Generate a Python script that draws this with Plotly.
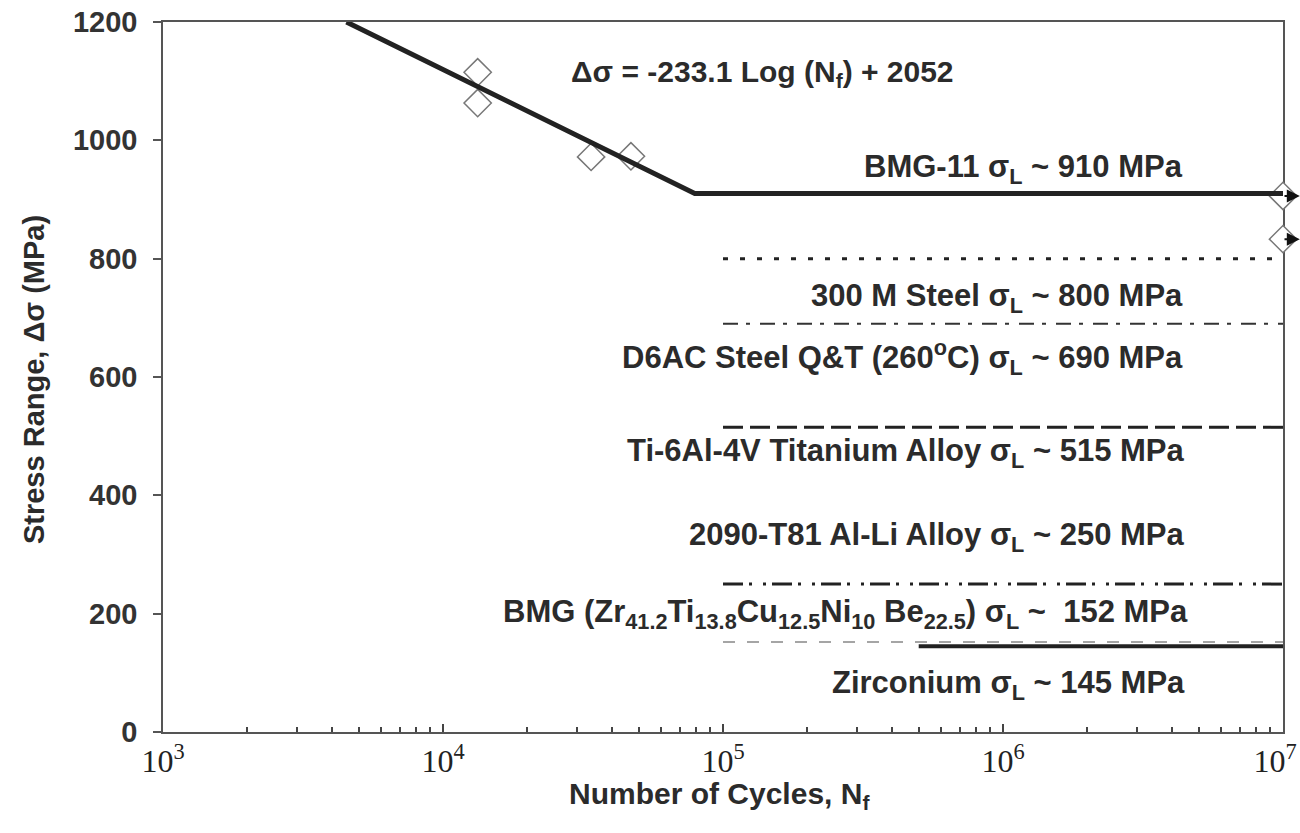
import numpy as np
import plotly.graph_objects as go

# S-N fit for BMG-11: stress = slope*log10(N) + intercept
fit_slope = -233.1
fit_intercept = 2052
bmg11_limit = 910

# Test results (cycles, stress range MPa)
test_cycles = [13300, 13300, 33800, 46900]
test_stress = [1115, 1063, 972, 973]
runout_cycles = [1e7, 1e7]
runout_stress = [906, 833]

# Fatigue limits of comparison materials (MPa), drawn out to 1e7 cycles
limit_names = ["300 M Steel", "D6AC Steel", "Ti-6Al-4V", "2090-T81", "BMG Zr-based", "Zirconium"]
limit_values = [800, 690, 515, 250, 152, 145]
limit_start = [1e5, 1e5, 1e5, 1e5, 1e5, 5e5]
limit_end = 1e7

x_tick_vals = [1e3, 1e4, 1e5, 1e6, 1e7]
# trailing non-breaking spaces keep the last label inside the page edge
x_tick_text = ["10<sup>3</sup>", "10<sup>4</sup>", "10<sup>5</sup>", "10<sup>6</sup>",
               "10<sup>7</sup>&nbsp;&nbsp;"]

dark = "#222222"
txt = "#2b2b2b"

fig = go.Figure()

# open diamond markers for data points (white filled so axis lines hide behind)
fig.add_trace(go.Scatter(
    x=test_cycles + runout_cycles, y=test_stress + runout_stress,
    mode="markers", cliponaxis=False,
    marker=dict(symbol="diamond", size=21, color="white",
                line=dict(color="#777777", width=1.5)),
    showlegend=False, hoverinfo="skip"))

# fitted line down to the fatigue limit, then horizontal
n_start = 10 ** ((fit_intercept - 1200) / -fit_slope)
n_knee = 10 ** ((fit_intercept - bmg11_limit) / -fit_slope)
fit_x = [n_start, n_knee, limit_end]
fit_y = [fit_slope * np.log10(n_start) + fit_intercept, bmg11_limit, bmg11_limit]
fig.add_trace(go.Scatter(x=fit_x, y=fit_y, mode="lines",
                         line=dict(color=dark, width=5),
                         showlegend=False, hoverinfo="skip"))

styles = [
    dict(color=dark, width=3, dash="5px,12px"),
    dict(color="#333333", width=2, dash="15px,8px,4px,10px"),
    dict(color=dark, width=3, dash="20px,7px"),
    dict(color=dark, width=3, dash="20px,6px,3px,11px,3px,6px"),
    dict(color="#888888", width=1.5, dash="12px,12px"),
    dict(color=dark, width=4),
]
for name, val, st, sty in zip(limit_names, limit_values, limit_start, styles):
    fig.add_trace(go.Scatter(x=[st, limit_end], y=[val, val], mode="lines",
                             line=sty, name=name, showlegend=False,
                             hoverinfo="skip"))

ann_font = dict(family="Arial", size=31, color=txt)
labels = [
    ("<b>BMG-11 σ<sub>L</sub> ~ 910 MPa</b>", 0.9125, 0.793),
    ("<b>300 M Steel σ<sub>L</sub> ~ 800 MPa</b>", 0.9125, 0.611),
    ("<b>D6AC Steel Q&T (260<sup>o</sup>C) σ<sub>L</sub> ~ 690 MPa</b>", 0.9125, 0.527),
    ("<b>Ti-6Al-4V Titanium Alloy σ<sub>L</sub> ~ 515 MPa</b>", 0.9145, 0.393),
    ("<b>2090-T81 Al-Li Alloy σ<sub>L</sub> ~ 250 MPa</b>", 0.9145, 0.274),
    ("<b>BMG (Zr<sub>41.2</sub>Ti<sub>13.8</sub>Cu<sub>12.5</sub>Ni<sub>10</sub> Be<sub>22.5</sub>) σ<sub>L</sub> ~  152 MPa</b>", 0.917, 0.166),
    ("<b>Zirconium σ<sub>L</sub> ~ 145 MPa</b>", 0.9145, 0.066),
]
annotations = []
for text, x, y in labels:
    annotations.append(dict(text=text, x=x, y=y, xref="paper", yref="paper",
                            xanchor="right", yanchor="middle",
                            showarrow=False, font=ann_font))

annotations.append(dict(text="<b>Δσ = -233.1 Log (N<sub>f</sub>) + 2052</b>",
                        x=0.535, y=0.928, xref="paper", yref="paper",
                        xanchor="center", yanchor="middle", showarrow=False,
                        font=dict(family="Arial", size=30, color=txt)))

# run-out arrows at the end of the test window
for n, s in zip(runout_cycles, runout_stress):
    annotations.append(dict(x=np.log10(n) + 0.06, y=s, ax=np.log10(n), ay=s,
                            xref="x", yref="y", axref="x", ayref="y",
                            text="", showarrow=True, arrowhead=2,
                            arrowsize=1.3, arrowwidth=2, arrowcolor="#111111"))

# axis titles
annotations.append(dict(text="<b>Number of Cycles, N<sub>f</sub></b>",
                        x=0.497, y=-0.089, xref="paper", yref="paper",
                        xanchor="center", yanchor="middle", showarrow=False,
                        font=dict(family="Arial", size=30, color=txt)))
annotations.append(dict(text="<b>Stress Range, Δσ (MPa)</b>",
                        x=-0.115, y=0.496, xref="paper", yref="paper",
                        xanchor="center", yanchor="middle", showarrow=False,
                        textangle=-90,
                        font=dict(family="Arial", size=29, color=txt)))

fig.update_layout(
    width=1300, height=833,
    margin=dict(l=163, r=17, t=22, b=101),
    paper_bgcolor="white", plot_bgcolor="white",
    annotations=annotations,
    showlegend=False,
)
fig.update_xaxes(
    type="log", range=[3 - 1e-6, 7 + 1e-6], tickvals=x_tick_vals, ticktext=x_tick_text,
    ticks="inside", ticklen=8, tickcolor="#444444", tickwidth=1.5,
    minor=dict(ticks="inside", ticklen=5, dtick="D1", tickcolor="#444444", showgrid=False),
    showgrid=False, zeroline=False, showline=True, linecolor="#555555",
    linewidth=1.5, mirror=True, layer="below traces", automargin=False,
    ticklabeloverflow="allow",
    tickfont=dict(family="Liberation Serif", size=32, color="#222222"),
)
fig.update_yaxes(
    range=[0, 1200], dtick=200, ticks="outside", ticklen=8,
    tickcolor="#555555", tickwidth=1.5, ticklabelstandoff=10,
    showgrid=False, zeroline=False, showline=True, linecolor="#555555",
    linewidth=1.5, mirror=True, layer="below traces", automargin=False,
    tickfont=dict(family="Arial", size=29, color="#333333", weight="bold"),
)

fig.write_html("out.html")
